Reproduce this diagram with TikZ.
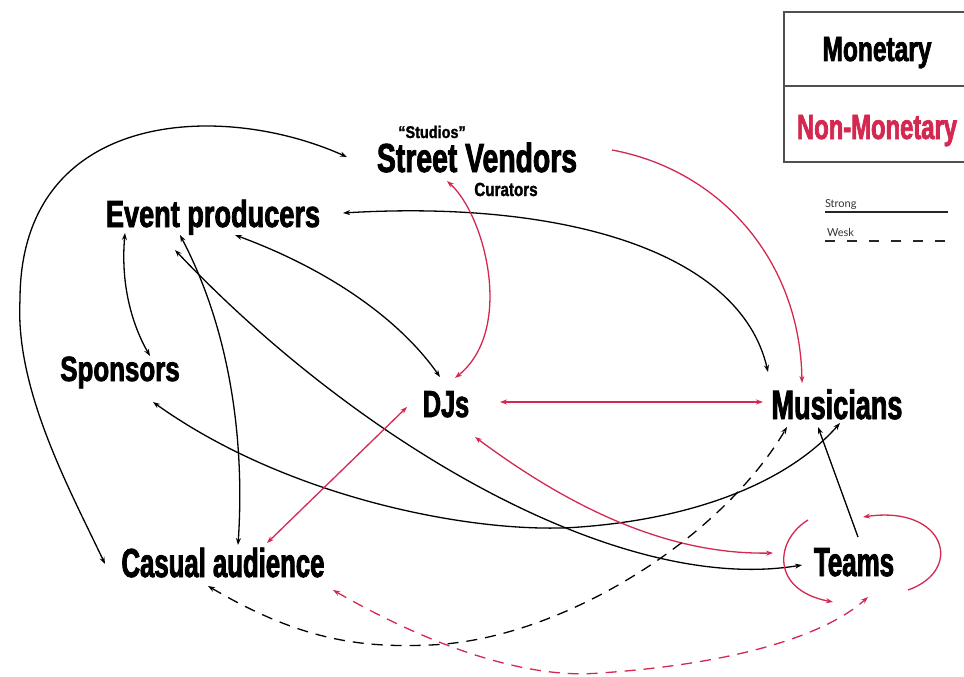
\documentclass[tikz,border=0pt]{standalone}
\usepackage{fontspec}
\usetikzlibrary{arrows.meta}
\newfontfamily\impact{Liberation Sans}
\newfontfamily\gill{Lato}
\newcommand\impf[3]{\impact\bfseries\fontsize{#1}{#1}\selectfont\addfontfeature{FakeStretch=#2,FakeBold=#3}}
\definecolor{nm}{RGB}{212,40,80}
\definecolor{boxline}{RGB}{80,80,80}
\begin{document}
\begin{tikzpicture}[x=1pt,y=-1pt,
  >={Stealth[length=7pt,width=5pt]},
  lbl/.style={anchor=base,inner sep=0pt,outer sep=0pt},
  mon/.style={draw=black,line width=1.3pt},
  non/.style={draw=nm,line width=1.3pt},
  weak/.style={dash pattern=on 11pt off 8pt}]
\useasboundingbox[fill=white] (0,0) rectangle (964,677);

% legend
\draw[boxline,line width=1.2pt] (970,12) -| (784,162) -- (970,162);
\draw[boxline,line width=1.2pt] (784,86) -- (970,86);
\node[lbl,font=\impf{35}{0.70}{2}] (MO) at (877,61) {Monetary};
\node[lbl,font=\impf{35}{0.68}{2},text=nm] (NM) at (877,139) {Non-Monetary};
\node[lbl,anchor=base west,font=\gill\fontsize{11}{11}\selectfont,text=black!80] (strong) at (825,207) {Strong};
\node[lbl,anchor=base west,font=\gill\fontsize{11}{11}\selectfont,text=black!80] (weakl) at (827,236) {Wesk};
\coordinate (s1) at (825,212); \coordinate (s2) at (948,212);
\coordinate (w1) at (825,241); \coordinate (w2) at (948,241);
\draw[line width=1.3pt,black!85] (s1) -- (s2);
\draw[line width=1.3pt,black!85,dash pattern=on 10pt off 12pt] (w1) -- (w2);

% nodes
\node[lbl,font=\impf{40.5}{0.70}{2}] (SV) at (477,172) {Street Vendors};
\node[lbl,font=\impf{17}{0.85}{1.5}] (ST) at (432,138) {“Studios”};
\node[lbl,font=\impf{19}{0.80}{1.5}] (CU) at (506,196) {Curators};
\node[lbl,font=\impf{37.7}{0.72}{2}] (EP) at (213,227) {Event producers};
\node[lbl,font=\impf{35}{0.74}{2}] (SP) at (120,381) {Sponsors};
\node[lbl,font=\impf{37.7}{0.67}{2}] (DJ) at (446,417) {DJs};
\node[lbl,font=\impf{41}{0.66}{2}] (MU) at (837,419) {Musicians};
\node[lbl,font=\impf{40.5}{0.64}{2}] (TE) at (854,576) {Teams};
\node[lbl,font=\impf{40.5}{0.635}{2}] (CA) at (223,577) {Casual audience};

% connectors
\draw[mon,<->] ([shift={(-130,-15)}]SV.base) .. controls (220,100) and (20,110) .. (20,300) .. controls (15,390) and (70,490) .. ([shift={(-118,-13)}]CA.base);
\draw[mon,<->] ([shift={(130,-14)}]EP.base) .. controls (560,200) and (740,250) .. ([shift={(-69,-47)}]MU.base);
\draw[non,->] ([shift={(135,-22)}]SV.base) .. controls (720,170) and (800,260) .. ([shift={(-35,-36)}]MU.base);
\draw[non,<->] ([shift={(-30,9)}]SV.base) .. controls (485,215) and (515,330) .. ([shift={(9,-39)}]DJ.base);
\draw[mon,<->] ([shift={(22,8)}]EP.base) .. controls (330,270) and (400,320) .. ([shift={(-6,-40)}]DJ.base);
\draw[mon,<->] ([shift={(-88,6)}]EP.base) .. controls (120,290) and (135,330) .. ([shift={(30,-25)}]SP.base);
\draw[mon,<->] ([shift={(-33,8)}]EP.base) .. controls (230,330) and (245,440) .. ([shift={(15,-32)}]CA.base);
\draw[mon,<->] ([shift={(-38,23)}]EP.base) .. controls (360,445) and (620,595) .. ([shift={(-52,-11)}]TE.base);
\draw[mon,<->] ([shift={(33,21)}]SP.base) .. controls (290,500) and (480,535) .. (580,527) .. controls (700,518) and (790,480) .. ([shift={(3,4)}]MU.base);
\draw[non,<->] ([shift={(54,-15)}]DJ.base) -- ([shift={(-74,-17)}]MU.base);
\draw[non,<->] ([shift={(29,20)}]DJ.base) .. controls (560,500) and (660,555) .. ([shift={(-81,-23)}]TE.base);
\draw[non,<->] ([shift={(-39,-10)}]DJ.base) -- ([shift={(44,-34)}]CA.base);
\draw[mon,->] ([shift={(4,-39)}]TE.base) -- ([shift={(-19,8)}]MU.base);
\draw[non,->] ([shift={(-46,-56)}]TE.base) .. controls (775,540) and (770,590) .. ([shift={(-21,26)}]TE.base);
\draw[non,->] ([shift={(54,14)}]TE.base) .. controls (965,570) and (945,505) .. ([shift={(9,-59)}]TE.base);
\draw[mon,weak,<->] ([shift={(-15,9)}]CA.base) .. controls (300,640) and (360,648) .. (430,645) .. controls (560,640) and (720,540) .. ([shift={(-50,8)}]MU.base);
\draw[non,weak,<->] ([shift={(110,13)}]CA.base) .. controls (420,640) and (520,680) .. (600,673) .. controls (720,665) and (820,640) .. ([shift={(14,21)}]TE.base);
\end{tikzpicture}
\end{document}
